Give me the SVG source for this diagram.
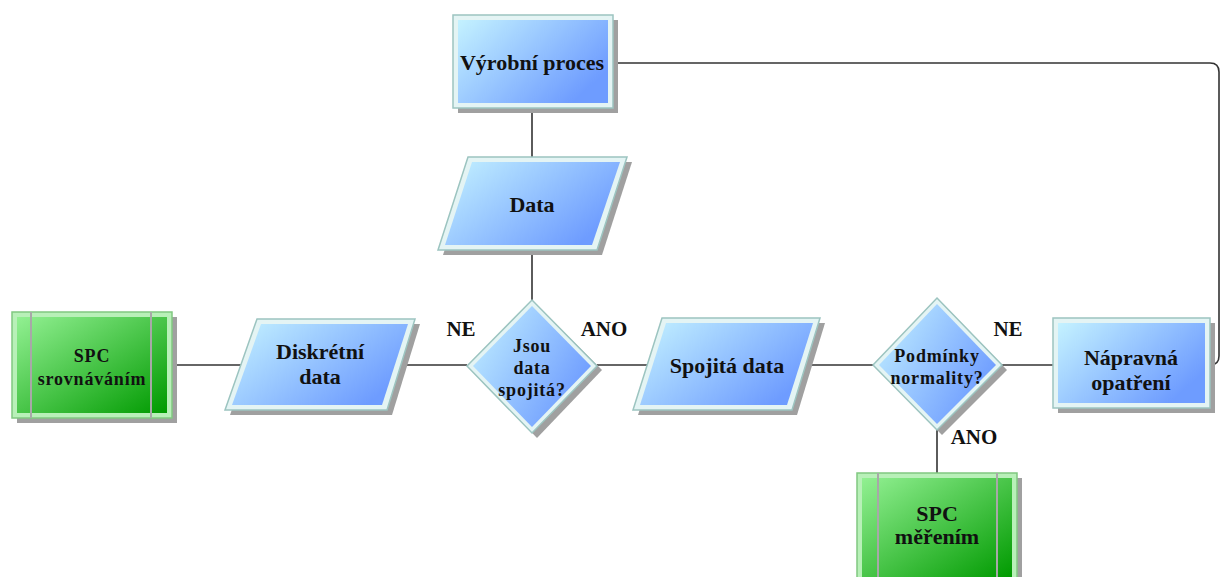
<svg xmlns="http://www.w3.org/2000/svg" width="1224" height="577" viewBox="0 0 1224 577">
<defs>
<linearGradient id="gb" x1="0" y1="0" x2="1" y2="0.6">
<stop offset="0" stop-color="#c4f2ff"/>
<stop offset="1" stop-color="#6e9cff"/>
</linearGradient>
<linearGradient id="gg" x1="0" y1="0" x2="1" y2="1">
<stop offset="0" stop-color="#92f092"/>
<stop offset="1" stop-color="#009a00"/>
</linearGradient>
</defs>
<style>
.sh{fill:#a0a0a0}
.ob{fill:#e4f4f4;stroke:#9cc4c0;stroke-width:1.5}
.ib{fill:url(#gb)}
.og{fill:#b8f0b8;stroke:#80c880;stroke-width:1.5}
.ig{fill:url(#gg)}
.vl{stroke:#a8a8a8;stroke-width:2}
.c{fill:none;stroke:#333;stroke-width:1.6}
text{font-family:"Liberation Serif","Times New Roman",serif;font-weight:bold;fill:#111;text-anchor:middle}
.t{font-size:22px}
.s{font-size:18px;letter-spacing:0.8px}
.l{font-size:21px}
</style>
<g id="connectors">
<path class="c" d="M612,63 H1210 Q1219,63 1219,72 V356 Q1219,365 1210,365"/>
<path class="c" d="M532,108 V157"/>
<path class="c" d="M532,250 V300"/>
<path class="c" d="M172,365 H243"/>
<path class="c" d="M400,365 H467"/>
<path class="c" d="M597,365 H648"/>
<path class="c" d="M806,365 H873"/>
<path class="c" d="M1002,365 H1053"/>
<path class="c" d="M937,430 V473"/>
</g>
<g id="labels">
<text class="l" x="461" y="336">NE</text>
<text class="l" x="604" y="336">ANO</text>
<text class="l" x="1008" y="336">NE</text>
<text class="l" x="974" y="444">ANO</text>
</g>
<g id="vyrobni">
<rect class="sh" x="458" y="20" width="160" height="93"/>
<rect class="ob" x="453" y="15" width="160" height="93"/>
<rect class="ib" x="458" y="20" width="150" height="83"/>
<text class="t" x="532" y="70">Výrobní proces</text>
</g>
<g id="data">
<polygon class="sh" points="473,162 632,162 602,255 443,255"/>
<polygon class="ob" points="468,157 627,157 597,250 438,250"/>
<polygon class="ib" points="472,162 620,162 592,245 445,245"/>
<text class="t" x="532" y="212">Data</text>
</g>
<g id="spc-srov">
<rect class="sh" x="17" y="317" width="160" height="106"/>
<rect class="og" x="12" y="312" width="160" height="106"/>
<rect class="ig" x="17" y="317" width="150" height="96"/>
<line class="vl" x1="31" y1="312" x2="31" y2="418"/>
<line class="vl" x1="151" y1="312" x2="151" y2="418"/>
<text class="s" x="92" y="362">SPC</text>
<text class="s" x="92" y="385">srovnáváním</text>
</g>
<g id="diskretni">
<polygon class="sh" points="262,324 420,324 392,415 230,415"/>
<polygon class="ob" points="257,319 415,319 387,410 225,410"/>
<polygon class="ib" points="261,324 408,324 382,405 232,405"/>
<text class="t" x="320" y="359">Diskrétní</text>
<text class="t" x="320" y="384">data</text>
</g>
<g id="jsou">
<polygon class="sh" points="537,305 602,370 537,438 472,370"/>
<polygon class="ob" points="532,300 597,366 532,433 467,366"/>
<polygon class="ib" points="532,306 591,366 532,427 473,366"/>
<text class="s" x="532" y="352">Jsou</text>
<text class="s" x="532" y="374">data</text>
<text class="s" x="532" y="396">spojitá?</text>
</g>
<g id="spojita">
<polygon class="sh" points="667,323 825,323 797,415 638,415"/>
<polygon class="ob" points="662,318 820,318 792,410 633,410"/>
<polygon class="ib" points="666,323 813,323 787,405 640,405"/>
<text class="t" x="727" y="373">Spojitá data</text>
</g>
<g id="podminky">
<polygon class="sh" points="942,303 1007,370 942,435 878,370"/>
<polygon class="ob" points="937,298 1002,365 937,430 873,365"/>
<polygon class="ib" points="937,304 996,365 937,424 879,365"/>
<text class="s" x="937" y="362">Podmínky</text>
<text class="s" x="937" y="384">normality?</text>
</g>
<g id="napravna">
<rect class="sh" x="1058" y="323" width="157" height="90"/>
<rect class="ob" x="1053" y="318" width="157" height="90"/>
<rect class="ib" x="1058" y="323" width="147" height="80"/>
<text class="t" x="1131" y="365">Nápravná</text>
<text class="t" x="1131" y="390">opatření</text>
</g>
<g id="spc-mer">
<rect class="sh" x="862" y="478" width="160" height="110"/>
<rect class="og" x="857" y="473" width="160" height="110"/>
<rect class="ig" x="862" y="478" width="150" height="100"/>
<line class="vl" x1="878" y1="473" x2="878" y2="583"/>
<line class="vl" x1="997" y1="473" x2="997" y2="583"/>
<text class="t" x="937" y="521">SPC</text>
<text class="t" x="937" y="544">měřením</text>
</g>
</svg>
